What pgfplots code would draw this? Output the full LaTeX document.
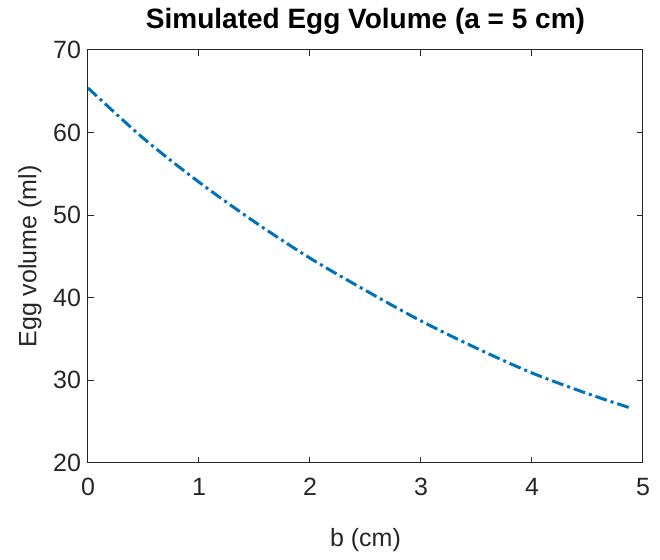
\documentclass[border=0pt]{standalone}
\usepackage{pgfplots}
\pgfplotsset{compat=1.18}
\usepackage{fontspec}
\setmainfont{Liberation Sans}
\definecolor{mblue}{RGB}{0,114,189}
\definecolor{axgray}{gray}{0.15}
\begin{document}
\begin{tikzpicture}
\begin{axis}[
  at={(0,0)}, anchor=south west,
  scale only axis,
  width=277.5pt, height=206.5pt,
  xmin=0, xmax=5, ymin=20, ymax=70,
  xtick={0,1,2,3,4,5}, ytick={20,30,40,50,60,70},
  tick align=inside,
  major tick length=3pt,
  axis line style={axgray, line width=0.5pt},
  every tick/.style={axgray, line width=0.5pt},
  tick label style={font=\fontsize{12.5}{14}\selectfont, text=axgray},
  xticklabel style={yshift=-4pt},
  /pgf/number format/assume math mode=true,
  xlabel={b (cm)}, ylabel={Egg volume (ml)},
  label style={font=\fontsize{12.5}{14}\selectfont, text=axgray},
  xlabel style={at={(axis description cs:0.5,-0.1864)}, anchor=center},
  ylabel style={at={(axis description cs:-0.1045,0.5)}, anchor=center},
  title={Simulated Egg Volume (a = 5 cm)},
  title style={font=\bfseries\fontsize{14}{16}\selectfont, at={(axis description cs:0.5,1.041)}, anchor=center},
]
\addplot[mblue, line width=1.5pt, dash pattern=on 6pt off 2pt on 1.5pt off 2pt, smooth] coordinates {
(0,65.4) (0.5,59.3) (1,54.0) (1.5,49.2) (2,44.8) (2.5,40.9) (3,37.2) (3.5,33.9) (4,30.9) (4.5,28.4) (4.9,26.6)
};
\end{axis}
\path[use as bounding box] (-44pt,-48.5pt) rectangle (286pt,231.5pt);
\end{tikzpicture}
\end{document}
